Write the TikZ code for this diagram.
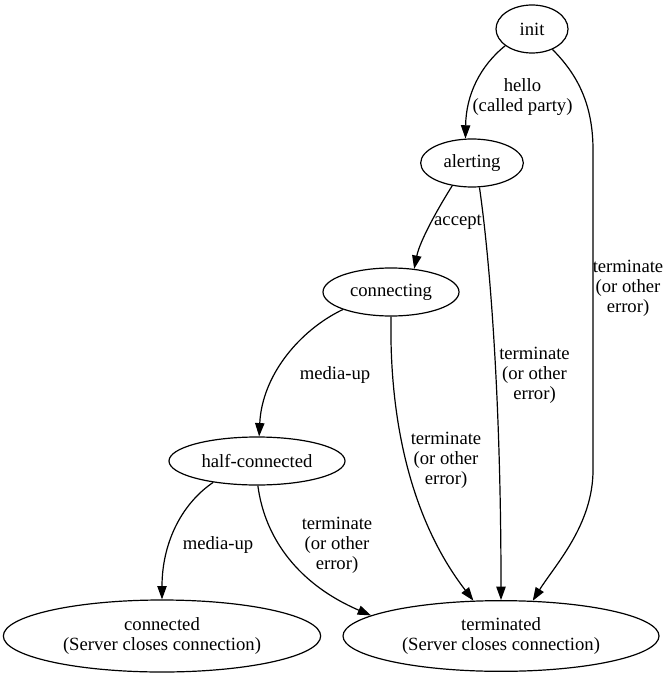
\documentclass[tikz,border=0pt]{standalone}
\usepackage{fontspec}
\setmainfont{Liberation Serif}
\usetikzlibrary{arrows.meta,shapes.geometric}
\begin{document}
\begin{tikzpicture}[x=0.75pt,y=-0.75pt,
  st/.style={draw,ellipse,line width=0.9pt,inner sep=0pt,align=center,font=\fontsize{14}{15}\selectfont},
  lbl/.style={align=center,inner sep=0pt,font=\fontsize{14}{15}\selectfont},
  edge/.style={line width=0.9pt,-{Triangle[length=10pt,width=7pt]}}]
\useasboundingbox (0,0) rectangle (671,677);
\node[st,minimum width=54pt,minimum height=36pt] (init) at (532,29) {init};
\node[st,minimum width=77pt,minimum height=36pt] (alerting) at (472,163) {alerting};
\node[st,minimum width=102pt,minimum height=36pt] (connecting) at (391,292) {connecting};
\node[st,minimum width=132pt,minimum height=36pt] (half) at (257,461) {half-connected};
\node[st,minimum width=238pt,minimum height=54pt] (connected) at (162,636) {connected\\(Server closes connection)};
\node[st,minimum width=237pt,minimum height=53pt] (terminated) at (501,636) {terminated\\(Server closes connection)};

\draw[edge] (init.212) .. controls (480,66) and (466,95) .. (alerting.105);
\draw[edge] (init.315) .. controls (578,75) and (593,105) .. (593,150) -- (593,470) .. controls (593,525) and (555,565) .. (terminated.48);
\draw[edge] (alerting.229) .. controls (440,205) and (420,240) .. (connecting.45);
\draw[edge] (alerting.287) .. controls (490,260) and (501,400) .. (terminated.90);
\draw[edge] (connecting.200) .. controls (300,330) and (262,375) .. (half.85);
\draw[edge] (connecting.270) .. controls (389,430) and (415,525) .. (terminated.128);
\draw[edge] (half.206) .. controls (180,505) and (162,545) .. (connected.90);
\draw[edge] (half.272) .. controls (265,540) and (300,585) .. (terminated.171);

\node[lbl] (l1) at (522.5,97) {hello\\(called party)};
\node[lbl] (l2) at (458,222) {accept};
\node[lbl] (l3) at (335,375) {media-up};
\node[lbl] (l4) at (218,545) {media-up};
\node[lbl] (l5) at (628,288) {terminate\\(or other\\error)};
\node[lbl] (l6) at (534.5,375) {terminate\\(or other\\error)};
\node[lbl] (l7) at (446,460) {terminate\\(or other\\error)};
\node[lbl] (l8) at (337,545) {terminate\\(or other\\error)};
\end{tikzpicture}
\end{document}
